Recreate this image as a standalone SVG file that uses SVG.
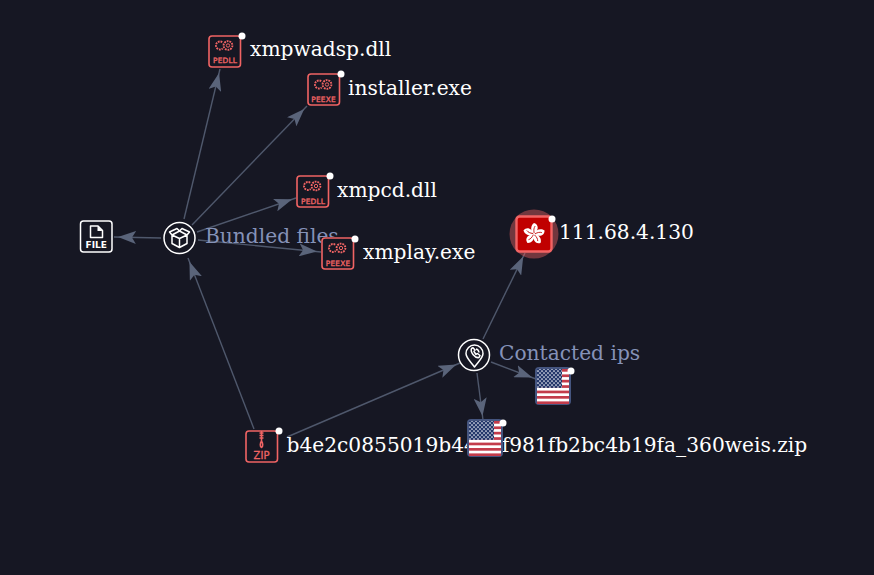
<svg xmlns="http://www.w3.org/2000/svg" width="874" height="575" viewBox="0 0 874 575">
<style>
.bg{fill:#161723}
.lbl{font-family:"DejaVu Serif",serif;font-size:20.2px;fill:#fff}
.grp{font-family:"DejaVu Serif",serif;font-size:20.2px;fill:#8592b8}
.edge{stroke:#4f586c;stroke-width:1.4;fill:none;marker-end:url(#arr)}
.red{fill:none;stroke:#f06464;stroke-width:1.6}
.tag{font-family:"DejaVu Sans",sans-serif;font-size:7.4px;letter-spacing:.2px;fill:#f06464;stroke:#f06464;stroke-width:.35;text-anchor:middle}
.wh{fill:none;stroke:#fff;stroke-width:1.5;stroke-linejoin:round}
.dot{fill:#fff}
</style>
<defs>
<marker id="arr" markerUnits="userSpaceOnUse" markerWidth="24" markerHeight="13" refX="22" refY="6.500" orient="auto" viewBox="0 0 24 13">
<path d="M0 0L18 6.500L0 13L4 6.500Z" fill="#5a647a"/>
</marker>
<pattern id="stars" width="4" height="4" patternUnits="userSpaceOnUse" x="0" y="0">
<rect width="4" height="4" fill="#24376a"/>
<circle cx="1" cy="1" r=".85" fill="#eef0f6"/>
<circle cx="3" cy="3" r=".85" fill="#eef0f6"/>
</pattern>
<g id="gears">
<circle cx="-4.500" cy="0" r="4" fill="none" stroke="#f06464" stroke-width="1.900" stroke-dasharray="1.800 .9"/>
<circle cx="3.500" cy="0" r="6.200" fill="#161723"/>
<circle cx="3.500" cy="0" r="4.400" fill="none" stroke="#f06464" stroke-width="1.900" stroke-dasharray="1.800 .9"/>
<circle cx="3.500" cy="0" r="1.700" fill="none" stroke="#f06464" stroke-width="1"/>
</g>
<g id="flag">
<rect x="-18" y="-19" width="36" height="38" rx="4" fill="#45557f"/>
<rect x="-16" y="-17" width="32" height="35" rx="1.500" fill="#fff"/>
<g fill="#c33c4b">
<rect x="-16" y="-17" width="32" height="2.700"/>
<rect x="-16" y="-11.600" width="32" height="2.700"/>
<rect x="-16" y="-6.200" width="32" height="2.700"/>
<rect x="-16" y="-.8" width="32" height="2.700"/>
<rect x="-16" y="4.600" width="32" height="2.700"/>
<rect x="-16" y="10" width="32" height="2.700"/>
<rect x="-16" y="15.400" width="32" height="2.600"/>
</g>
<rect x="-16" y="-17" width="25" height="18.900" fill="url(#stars)"/>
</g>
</defs>
<rect class="bg" width="874" height="575"/>
<g id="connectors">
<path class="edge" d="M184 219L220 69"/>
<path class="edge" d="M192 225L307 106"/>
<path class="edge" d="M197 232L296 198"/>
<path class="edge" d="M198 240L321 252"/>
<path class="edge" d="M161 238L114 237"/>
<path class="edge" d="M254 429L188 258"/>
<path class="edge" d="M287 437L460 363"/>
<path class="edge" d="M483 339L525 253"/>
<path class="edge" d="M491 362L536 379"/>
<path class="edge" d="M477 373L483 420"/>
</g>
<g id="node-xmpwadsp">
<rect class="red" x="209" y="36" width="31.500" height="31" rx="3"/>
<use href="#gears" x="224.500" y="45.500"/>
<text class="tag" x="225" y="62.500">PEDLL</text>
<circle class="dot" cx="242" cy="36" r="3.500"/>
<text class="lbl" x="250" y="56">xmpwadsp.dll</text>
</g>
<g id="node-installer">
<rect class="red" x="308" y="74" width="31.500" height="31" rx="3"/>
<use href="#gears" x="323.500" y="84.500"/>
<text class="tag" x="323.500" y="101.500">PEEXE</text>
<circle class="dot" cx="341" cy="74" r="3.500"/>
<text class="lbl" x="348" y="95">installer.exe</text>
</g>
<g id="node-xmpcd">
<rect class="red" x="297" y="176" width="31.500" height="31" rx="3"/>
<use href="#gears" x="312.500" y="186"/>
<text class="tag" x="313" y="203.500">PEDLL</text>
<circle class="dot" cx="330" cy="176" r="3.500"/>
<text class="lbl" x="337" y="197">xmpcd.dll</text>
</g>
<g id="node-bundled">
<circle class="wh" cx="179.500" cy="238" r="15.500"/>
<path class="wh" stroke-width="1.200" d="M172 235V243.500L179.500 247.500L187 243.500V235M179.500 238.500V247.500M172 235L179.500 238.500L187 235M172 235L169.500 232L177 228.500L179.500 231L182 228.500L189.500 232L187 235M172 235L179.500 231L187 235"/>
<text class="grp" x="205" y="243">Bundled files</text>
</g>
<g id="node-xmplay">
<rect class="bg" x="321" y="237" width="33" height="33"/>
<rect class="red" x="322" y="238" width="31.500" height="31" rx="3"/>
<use href="#gears" x="337.500" y="248"/>
<text class="tag" x="338" y="265.500">PEEXE</text>
<circle class="dot" cx="355" cy="239" r="3.500"/>
<text class="lbl" x="363" y="259">xmplay.exe</text>
</g>
<g id="node-file">
<rect class="wh" x="80.500" y="221" width="31.500" height="31" rx="3"/>
<path class="wh" d="M90.500 226H98L102.500 230.500V237.500H90.500Z"/>
<path d="M97.500 226V231H102.500Z" fill="#fff"/>
<text x="96.300" y="248" font-family="DejaVu Sans,sans-serif" font-weight="700" font-size="9px" fill="#fff" text-anchor="middle">FILE</text>
</g>
<g id="node-ip">
<circle cx="534" cy="234" r="24.500" fill="#f26464" fill-opacity=".42"/>
<rect x="516.500" y="216.500" width="35" height="35" rx="3" fill="#c00000" stroke="#f26464" stroke-width="2.400"/>
<g transform="translate(534 234) rotate(8)">
<g fill="#fff">
<path d="M0 0C-4-2-5-8-1.500-11C4-10 4-4 0 0Z"/>
<path d="M0 0C-4-2-5-8-1.500-11C4-10 4-4 0 0Z" transform="rotate(72)"/>
<path d="M0 0C-4-2-5-8-1.500-11C4-10 4-4 0 0Z" transform="rotate(144)"/>
<path d="M0 0C-4-2-5-8-1.500-11C4-10 4-4 0 0Z" transform="rotate(216)"/>
<path d="M0 0C-4-2-5-8-1.500-11C4-10 4-4 0 0Z" transform="rotate(288)"/>
</g>
<g fill="none" stroke="#c00000" stroke-width=".8">
<path d="M0-1C-1-4 -1-6 0-8"/>
<path d="M0-1C-1-4 -1-6 0-8" transform="rotate(72)"/>
<path d="M0-1C-1-4 -1-6 0-8" transform="rotate(144)"/>
<path d="M0-1C-1-4 -1-6 0-8" transform="rotate(216)"/>
<path d="M0-1C-1-4 -1-6 0-8" transform="rotate(288)"/>
</g>
</g>
<circle class="dot" cx="552" cy="219" r="3.500"/>
<text class="lbl" x="559" y="239">111.68.4.130</text>
</g>
<g id="node-contacted">
<circle class="wh" cx="474" cy="355" r="15.500"/>
<path class="wh" d="M474.500 367C471 362 466 358 466 353.500A8.500 8.500 0 0 1 483 353.500C483 358 478 362 474.500 367Z"/>
<path class="wh" stroke-width="1" d="M471.500 348.500C470 352 475 358.500 479 357.500L480 355.500L477.500 353.500L476 354.500L474 351.500L475 350L473 347.800ZM476 349A4 4 0 0 1 479 352.500"/>
<text class="grp" x="499" y="360">Contacted ips</text>
</g>
<g id="node-zip">
<rect class="red" x="246" y="431" width="31.500" height="31" rx="3"/>
<path class="red" stroke-width="1.100" d="M261.500 431V441M259.500 433H263.500M259.500 435.500H263.500M259.500 438H263.500M261.500 441C260 443 259.800 447 261.500 447.500C263.200 447 263 443 261.500 441Z"/>
<text x="261.500" y="459" font-family="DejaVu Sans,sans-serif" font-size="10px" fill="#f06464" stroke="#f06464" stroke-width=".3" text-anchor="middle">ZIP</text>
<circle class="dot" cx="279" cy="431" r="3.500"/>
<text class="lbl" x="286.500" y="452">b4e2c0855019b44e3f981fb2bc4b19fa_360weis.zip</text>
</g>
<g id="node-flag-a">
<use href="#flag" x="553" y="386"/>
<circle class="dot" cx="571" cy="371" r="3.500"/>
</g>
<g id="node-flag-b">
<use href="#flag" x="485" y="438"/>
<circle class="dot" cx="503" cy="423" r="3.500"/>
</g>
</svg>
